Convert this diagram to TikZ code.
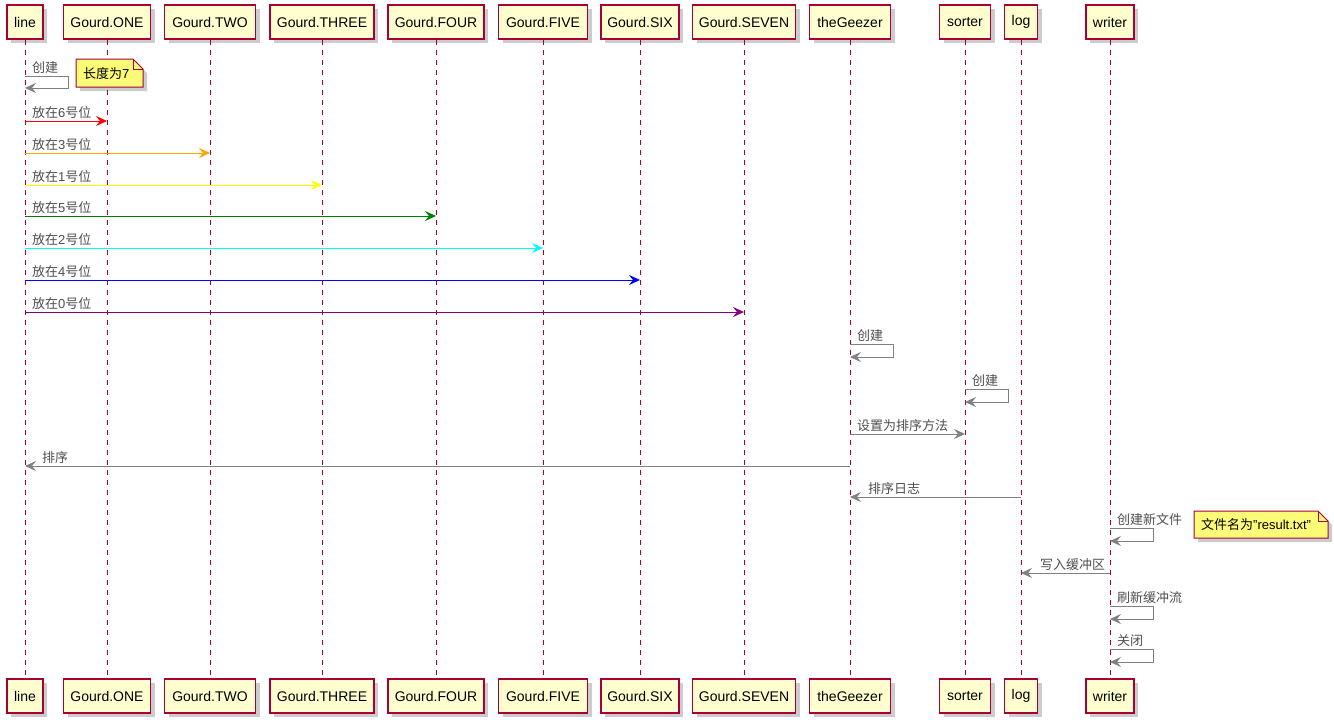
\documentclass[tikz,border=0pt]{standalone}
\usepackage{fontspec}
\setmainfont{Liberation Sans}
\newfontfamily\cjk{Noto Sans CJK SC}
\newcommand\zh[1]{{\cjk #1}}
\usetikzlibrary{arrows.meta,shadows}
\definecolor{pborder}{HTML}{A80036}
\definecolor{pfill}{HTML}{FEFECE}
\definecolor{nfill}{HTML}{FBFB77}
\definecolor{lbl}{HTML}{4D4D4D}
\definecolor{agray}{HTML}{808080}
\definecolor{aorange}{HTML}{FFA500}
\definecolor{ayellow}{HTML}{FFFF00}
\definecolor{agreen}{HTML}{008000}
\definecolor{acyan}{HTML}{00FFFF}
\definecolor{ablue}{HTML}{0000FF}
\definecolor{apurple}{HTML}{800080}
\begin{document}
\begin{tikzpicture}[x=1pt,y=-1pt,
  part/.style={draw=pborder, fill=pfill, line width=1.2pt, minimum height=34pt, inner sep=0pt,
    font=\fontsize{14}{16}\selectfont,
    drop shadow={shadow xshift=4pt, shadow yshift=-4pt, fill=black, opacity=0.2}},
  life/.style={draw=pborder, line width=1pt, dash pattern=on 5pt off 5pt},
  msg/.style={line width=1pt, -{Stealth[length=11pt,width=10pt,inset=4pt]}},
  lab/.style={anchor=base west, inner sep=0pt, text=lbl, font=\fontsize{13}{13}\selectfont},
  notebox/.style={draw=pborder, fill=nfill, line width=1pt,
    drop shadow={shadow xshift=4pt, shadow yshift=-4pt, fill=black, opacity=0.2}},
  notetext/.style={anchor=base west, inner sep=0pt, font=\fontsize{13}{13}\selectfont}
]
\useasboundingbox (0,0) rectangle (1334,726);

\foreach \n/\x/\w/\t in {line/25/36/line, one/107/87/Gourd.ONE, two/210/91/Gourd.TWO,
  three/322/104/Gourd.THREE, four/436/96/Gourd.FOUR, five/543/89/Gourd.FIVE,
  six/640/78/Gourd.SIX, seven/744/103/Gourd.SEVEN, gz/850/81/theGeezer,
  sorter/965/51/sorter, log/1021/33/log, writer/1110/48/writer} {
  \node[part, minimum width=\w pt] (\n-t) at (\x,22) {\t};
  \node[part, minimum width=\w pt] (\n-b) at (\x,696) {\t};
  \draw[life] (\n-t.south) -- (\n-b.north);
}

% line self create
\draw[msg, agray] (line-t |- 0,76) -- ++(43,0) -- ++(0,12) -- (line-t |- 0,88);
\path (line-t |- 0,76) ++(7,-4) node[lab] (m0) {\zh{创建}};

% note 1
\path[notebox] (76,59) -- (133,59) -- (143,69) -- (143,87) -- (76,87) -- cycle;
\draw[pborder, line width=1pt] (133,59) -- (133,69) -- (143,69);
\node[notetext] (n1) at (83,78) {\zh{长度为}7};

% placing gourds
\draw[msg, red] (line-t |- 0,121) -- (one-t |- 0,121);
\path (line-t |- 0,121) ++(7,-4) node[lab] (m1) {\zh{放在}6\zh{号位}};
\draw[msg, aorange] (line-t |- 0,153) -- (two-t |- 0,153);
\path (line-t |- 0,153) ++(7,-4) node[lab] (m2) {\zh{放在}3\zh{号位}};
\draw[msg, ayellow] (line-t |- 0,185) -- (three-t |- 0,185);
\path (line-t |- 0,185) ++(7,-4) node[lab] (m3) {\zh{放在}1\zh{号位}};
\draw[msg, agreen] (line-t |- 0,216) -- (four-t |- 0,216);
\path (line-t |- 0,216) ++(7,-4) node[lab] (m4) {\zh{放在}5\zh{号位}};
\draw[msg, acyan] (line-t |- 0,248) -- (five-t |- 0,248);
\path (line-t |- 0,248) ++(7,-4) node[lab] (m5) {\zh{放在}2\zh{号位}};
\draw[msg, ablue] (line-t |- 0,280) -- (six-t |- 0,280);
\path (line-t |- 0,280) ++(7,-4) node[lab] (m6) {\zh{放在}4\zh{号位}};
\draw[msg, apurple] (line-t |- 0,312) -- (seven-t |- 0,312);
\path (line-t |- 0,312) ++(7,-4) node[lab] (m7) {\zh{放在}0\zh{号位}};

% theGeezer create
\draw[msg, agray] (gz-t |- 0,344) -- ++(43,0) -- ++(0,13) -- (gz-t |- 0,357);
\path (gz-t |- 0,344) ++(7,-4) node[lab] (m8) {\zh{创建}};
% sorter create
\draw[msg, agray] (sorter-t |- 0,389) -- ++(43,0) -- ++(0,13) -- (sorter-t |- 0,402);
\path (sorter-t |- 0,389) ++(7,-4) node[lab] (m9) {\zh{创建}};
% set sort method
\draw[msg, agray] (gz-t |- 0,434) -- (sorter-t |- 0,434);
\path (gz-t |- 0,434) ++(7,-4) node[lab] (m10) {\zh{设置为排序方法}};
% sort
\draw[msg, agray] (gz-t |- 0,466) -- (line-t |- 0,466);
\path (line-t |- 0,466) ++(17,-4) node[lab] (m11) {\zh{排序}};
% sort log
\draw[msg, agray] (log-t |- 0,497) -- (gz-t |- 0,497);
\path (gz-t |- 0,497) ++(18,-4) node[lab] (m12) {\zh{排序日志}};
% writer create file
\draw[msg, agray] (writer-t |- 0,528) -- ++(43,0) -- ++(0,13) -- (writer-t |- 0,541);
\path (writer-t |- 0,528) ++(7,-4) node[lab] (m13) {\zh{创建新文件}};

% note 2
\path[notebox] (1194,511) -- (1318,511) -- (1328,521) -- (1328,538) -- (1194,538) -- cycle;
\draw[pborder, line width=1pt] (1318,511) -- (1318,521) -- (1328,521);
\node[notetext] (n2) at (1201,529) {\zh{文件名为}\char34 result.txt\char34};

% write buffer
\draw[msg, agray] (writer-t |- 0,573) -- (log-t |- 0,573);
\path (log-t |- 0,573) ++(19,-4) node[lab] (m14) {\zh{写入缓冲区}};
% flush
\draw[msg, agray] (writer-t |- 0,606) -- ++(43,0) -- ++(0,13) -- (writer-t |- 0,619);
\path (writer-t |- 0,606) ++(7,-4) node[lab] (m15) {\zh{刷新缓冲流}};
% close
\draw[msg, agray] (writer-t |- 0,649) -- ++(43,0) -- ++(0,13) -- (writer-t |- 0,662);
\path (writer-t |- 0,649) ++(7,-4) node[lab] (m16) {\zh{关闭}};
\end{tikzpicture}
\end{document}
